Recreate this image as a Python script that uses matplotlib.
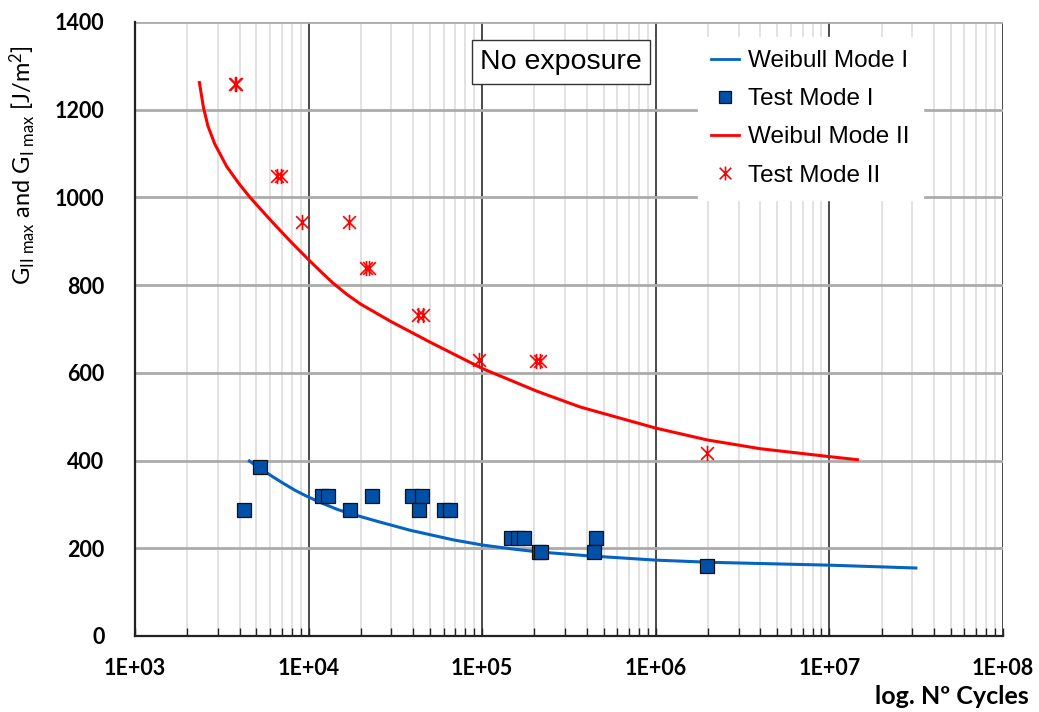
import matplotlib
matplotlib.use("Agg")
import matplotlib.pyplot as plt
from matplotlib.path import Path
from matplotlib.lines import Line2D
from matplotlib.ticker import LogLocator, FixedLocator, NullFormatter

plt.rcParams["mathtext.fontset"] = "custom"
plt.rcParams["mathtext.rm"] = "Lato"
plt.rcParams["mathtext.it"] = "Lato:italic"
plt.rcParams["mathtext.bf"] = "Lato:bold"

# ---- data ----
weibull1_x = [4560, 5260, 6280, 7160, 8370, 9770, 11940, 14550, 17380, 25120,
              38550, 68550, 100000, 145600, 207000, 402700, 1.0e6, 2.07e6,
              1.0e7, 3.15e7]
weibull1_y = [399, 382, 362, 348, 332, 318.5, 303, 289, 279, 261,
              241, 219, 207.5, 199, 192, 183, 173, 168,
              161.5, 155]

test1_x = [4260, 5260, 11950, 12900, 17400, 23200, 39400, 45000, 43500,
           60500, 65000, 145600, 161000, 173500, 212000, 219000, 454000,
           440000, 1.98e6]
test1_y = [287, 385, 320, 320, 287, 320, 320, 320, 287,
           287, 287, 224, 224, 224, 191, 191, 224,
           192, 160]

weibull2_x = [2350, 2480, 2630, 2880, 3380, 3980, 4600, 6140, 7940, 10000,
              11750, 13800, 16600, 19900, 29500, 50100, 100000, 207000,
              368000, 1.0e6, 1.98e6, 4.0e6, 1.0e7, 1.45e7]
weibull2_y = [1262, 1205, 1163, 1122, 1070, 1031, 1000, 945, 898, 858,
              831, 805, 779, 757, 718, 670, 610, 558,
              522, 474, 447, 427, 409, 402]

test2_x = [3750, 3800, 6550, 6900, 9140, 17000, 21300, 22400, 42800, 45500,
           95500, 205000, 216000, 1.98e6]
test2_y = [1258, 1258, 1049, 1049, 945, 943, 838, 838, 732, 732,
           629, 628, 628, 418]

x_ticks = [1e3, 1e4, 1e5, 1e6, 1e7, 1e8]
x_tick_labels = ["1E+03", "1E+04", "1E+05", "1E+06", "1E+07", "1E+08"]
y_ticks = [0, 200, 400, 600, 800, 1000, 1200, 1400]
legend_labels = ["Weibull Mode I", "Test Mode I", "Weibul Mode II", "Test Mode II"]

# ---- styling ----
RED = "#FF0000"
BLUE_LINE = "#0563C1"
BLUE_FILL = "#0050A8"

asterisk = Path([(-1, -1), (1, 1), (-1, 1), (1, -1), (0, -1.2), (0, 1.2)],
                [Path.MOVETO, Path.LINETO, Path.MOVETO, Path.LINETO,
                 Path.MOVETO, Path.LINETO])

W, H = 1039, 712
fig = plt.figure(figsize=(W / 100, H / 100), dpi=100)
ax = fig.add_axes([135 / W, 76 / H, 868 / W, 614 / H])

ax.set_xscale("log")
ax.set_xlim(1e3, 1e8)
ax.set_ylim(0, 1400)

ax.xaxis.set_major_locator(FixedLocator(x_ticks))
ax.xaxis.set_minor_locator(LogLocator(base=10, subs=range(2, 10), numticks=50))
ax.xaxis.set_minor_formatter(NullFormatter())
ax.set_xticks(x_ticks)
ax.set_xticklabels(x_tick_labels)
ax.set_yticks(y_ticks)
ax.grid(which="minor", axis="x", color="#DADADA", linewidth=1.1, zorder=0)
ax.grid(which="major", axis="x", color="#4A4A4A", linewidth=1.4, zorder=0.5)
ax.grid(which="major", axis="y", color="#ABABAB", linewidth=2.0, zorder=0.6)
ax.set_axisbelow(True)

for s in ["top", "right"]:
    ax.spines[s].set_visible(False)
for s in ["left", "bottom"]:
    ax.spines[s].set_linewidth(1.6)
    ax.spines[s].set_color("#222222")

ax.tick_params(axis="x", which="both", direction="in", length=6, width=1.0,
               color="#222222", pad=16)
ax.tick_params(axis="y", which="both", length=0, pad=22)
for lab in ax.get_xticklabels() + ax.get_yticklabels():
    lab.set_fontfamily("Lato")
    lab.set_fontweight("bold")
    lab.set_fontsize(15.5)

# series
ax.plot(weibull1_x, weibull1_y, color=BLUE_LINE, linewidth=2.2, zorder=3,
        solid_joinstyle="round")
ax.plot(test1_x, test1_y, linestyle="none", marker="s", markersize=10,
        markerfacecolor=BLUE_FILL, markeredgecolor="#111111",
        markeredgewidth=0.9, zorder=4)
ax.plot(weibull2_x, weibull2_y, color=RED, linewidth=2.2, zorder=3,
        solid_joinstyle="round")
ax.plot(test2_x, test2_y, linestyle="none", marker=asterisk, markersize=11,
        markerfacecolor="none", markeredgecolor=RED, markeredgewidth=1.2,
        zorder=4)

# annotation box
ax.text((561 - 135) / 868, (636 - 62) / 614, "No exposure",
        transform=ax.transAxes, ha="center", va="center", fontsize=20.5,
        family="Liberation Sans",
        bbox=dict(boxstyle="square,pad=0.3", facecolor="white",
                  edgecolor="#333333", linewidth=1.0), zorder=6)

# legend
handles = [
    Line2D([], [], color=BLUE_LINE, linewidth=2.0),
    Line2D([], [], linestyle="none", marker="s", markersize=9,
           markerfacecolor=BLUE_FILL, markeredgecolor="#111111",
           markeredgewidth=0.9),
    Line2D([], [], color=RED, linewidth=2.0),
    Line2D([], [], linestyle="none", marker=asterisk, markersize=10,
           markerfacecolor="none", markeredgecolor=RED, markeredgewidth=1.2),
]
leg = ax.legend(handles, legend_labels, loc="upper left",
                bbox_to_anchor=((698 - 135) / 868, (636 - 37) / 614),
                frameon=True, fancybox=False, framealpha=1.0,
                edgecolor="white", facecolor="white",
                prop=dict(family="Liberation Sans", size=17.5),
                handlelength=1.15, handletextpad=0.35, labelspacing=0.66,
                borderpad=0.55, borderaxespad=0.0)
leg.set_zorder(7)

# axis labels
fig.text(23 / W, 1 - 165 / H,
         r"G$_{\mathrm{II\ max}}$ and G$_{\mathrm{I\ max}}$ [J/m$^{2}$]",
         rotation=90, ha="center", va="center", fontsize=17, family="Lato")
fig.text(1029 / W, 1 - 697 / H, "log. Nº Cycles", ha="right",
         va="center", fontsize=18, family="Lato", weight="bold")

fig.savefig("out.png", dpi=100)
